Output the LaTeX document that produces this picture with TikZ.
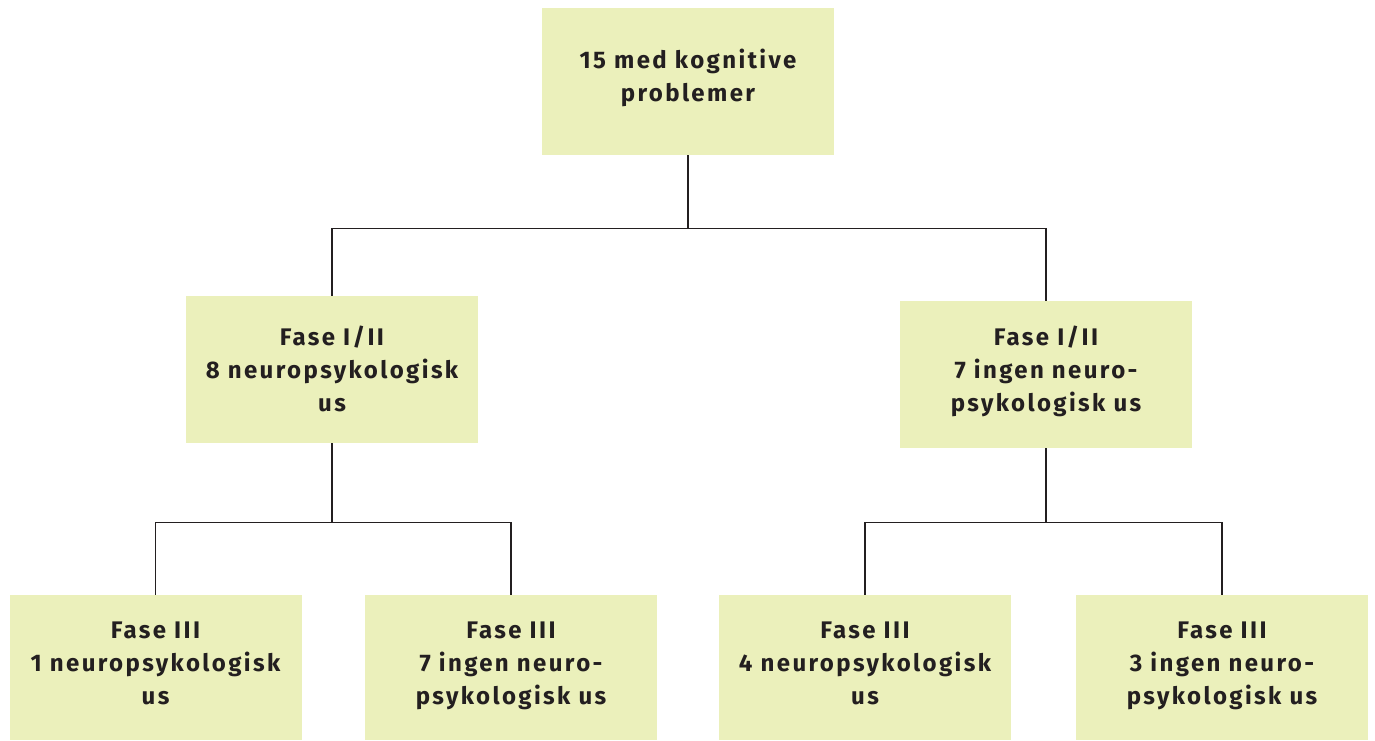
\documentclass[tikz,border=0pt]{standalone}
\usepackage{fontspec}
\setmainfont{Fira Sans}[LetterSpace=10]
\usetikzlibrary{calc}
\definecolor{boxfill}{HTML}{EBF0BB}
\definecolor{ink}{HTML}{231F20}
\tikzset{
  box/.style={fill=boxfill, draw=none, minimum width=292pt, minimum height=147pt, inner sep=0pt},
  lbl/.style={align=center, text=ink, inner sep=0pt,
    font=\fontsize{24}{33}\selectfont\bfseries,
    execute at begin node=\strut, execute at end node=\strut},
  link/.style={draw=ink, line width=1.2pt}
}
\begin{document}
\begin{tikzpicture}[x=1pt,y=-1pt]
\useasboundingbox (0,0) rectangle (1375,740);
% boxes
\node[box] (top) at (688,81.5) {};
\node[box] (mL) at (332,369.5) {};
\node[box] (mR) at (1046,374.5) {};
\node[box, minimum height=145pt] (b1) at (155.5,667.5) {};
\node[box, minimum height=145pt] (b2) at (511,667.5) {};
\node[box, minimum height=145pt] (b3) at (865,667.5) {};
\node[box, minimum height=145pt] (b4) at (1222,667.5) {};
% labels
\node[lbl] (ttop) at (688,80) {15 med kognitive\\problemer};
\node[lbl] (tmL) at (332,374) {Fase I/II\\8 neuropsykologisk\\us};
\node[lbl] (tmR) at (1046,374) {Fase I/II\\7 ingen neuro-\\psykologisk us};
\node[lbl] (tb1) at (155.5,668.5) {Fase III\\1 neuropsykologisk\\us};
\node[lbl] (tb2) at (511,668.5) {Fase III\\7 ingen neuro-\\psykologisk us};
\node[lbl] (tb3) at (865,668.5) {Fase III\\4 neuropsykologisk\\us};
\node[lbl] (tb4) at (1222,668.5) {Fase III\\3 ingen neuro-\\psykologisk us};
% connectors
\draw[link] (top.south) -- ++(0,73) coordinate (j0);
\draw[link] (mL.north) |- (j0) -| (mR.north);
\draw[link] (mL.south) -- ++(0,79) coordinate (j1);
\draw[link] (b1.north) |- (j1) -| (b2.north);
\draw[link] (mR.south) -- ++(0,74) coordinate (j2);
\draw[link] (b3.north) |- (j2) -| (b4.north);
\end{tikzpicture}
\end{document}
